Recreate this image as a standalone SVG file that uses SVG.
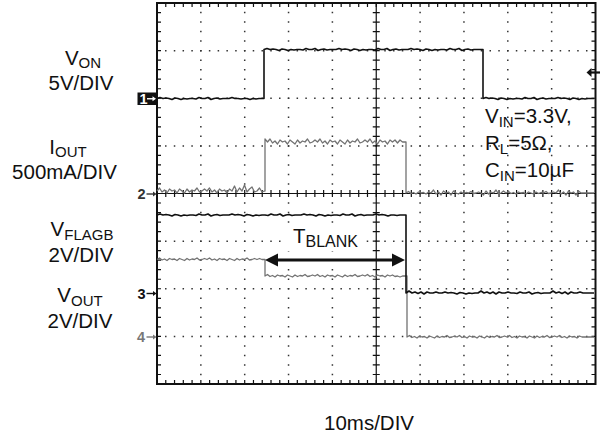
<svg xmlns="http://www.w3.org/2000/svg" width="600" height="436" viewBox="0 0 600 436">
<style>
.lbl{font-family:"Liberation Sans",Arial,sans-serif;font-size:20.5px;fill:#111}
.sub{font-size:15px}
.mk{font-family:"Liberation Sans",Arial,sans-serif;font-size:14.5px;font-weight:bold}
.dh{fill:none;stroke:#333;stroke-width:1.5;stroke-dasharray:1.5 7.27}
.dv{fill:none;stroke:#333;stroke-width:1.5;stroke-dasharray:1.5 8.025}
.th{fill:none;stroke:#111;stroke-width:4;stroke-dasharray:1.2 7.57}
.tv{fill:none;stroke:#111;stroke-width:4;stroke-dasharray:1.2 8.325}
.blk{fill:none;stroke:#111;stroke-width:1.6;stroke-linejoin:round}
.gry{fill:none;stroke:#727272;stroke-width:1.3;stroke-linejoin:round}
</style>
<rect width="600" height="436" fill="#fff"/>
<g id="grid">
<path class="dh" d="M156.25,50.625H596M156.25,98.25H596M156.25,145.875H596M156.25,241.125H596M156.25,288.75H596M156.25,336.375H596"/>
<path class="dv" d="M200.85,2.25V385M244.7,2.25V385M288.55,2.25V385M332.4,2.25V385M420.1,2.25V385M463.95,2.25V385M507.8,2.25V385M551.65,2.25V385"/>
<path class="th" d="M156.4,5H596M156.4,382H596"/>
<path class="tv" d="M159,2.4V385M593.5,2.4V385"/>
<path class="th" style="stroke-width:7" d="M156.4,193.5H596"/>
<path class="tv" style="stroke-width:7" d="M376.25,2.4V385"/>
<path fill="none" stroke="#111" stroke-width="1.2" d="M157,193.5H595.5M376.25,3V384"/>
<rect x="157" y="3" width="438.5" height="381" fill="none" stroke="#111" stroke-width="2"/>
</g>
<g id="traces">
<path id="von" class="blk" d="M157,98.5 l3,-1 3,1 3,-0.5 3,0.5 3,1 3,-1.5 3,0.5 3,1 3,-1 3,0.5 3,-0.5 3,0 3,0.5 3,-1.5 3,1 3,0 3,-1 3,2 3,-1 3,-0.5 3,1 3,-0.5 3,0 3,0 3,-1 3,1 3,0 3,0.5 3,-0.5 3,0 3,1 3,-1 3,0.5 3,-0.5 L264,98.5 V49.5 l3,-1 3,1 3,-0.5 3,0.5 3,1 3,-1.5 3,0.5 3,1 3,-1 3,0.5 3,-0.5 3,0 3,0.5 3,-1.5 3,1 3,0 3,-1 3,2 3,-1 3,-0.5 3,1 3,-0.5 3,0 3,0 3,-1 3,1 3,-0.5 3,0.5 3,1 3,-1.5 3,0.5 3,1 3,-1 3,0.5 3,-0.5 3,0 3,0.5 3,-1.5 3,1 3,0 3,-1 3,2 3,-1 3,-0.5 3,1 3,-0.5 3,0 3,0 3,-1 3,1 3,-0.5 3,0.5 3,1 3,-1.5 3,0.5 3,1 3,-1 3,0.5 3,-0.5 3,0 3,0.5 3,-1.5 3,1 3,0 3,-1 3,2 3,-1 3,-0.5 3,1 3,-0.5 3,0 3,0 L483,49.5 V98.5 l3,-1 3,1 3,-0.5 3,0.5 3,1 3,-1.5 3,0.5 3,1 3,-1 3,0.5 3,-0.5 3,0 3,0.5 3,-1.5 3,1 3,0 3,-1 3,2 3,-1 3,-0.5 3,1 3,-0.5 3,0 3,0 3,-1 3,1 3,-0.5 3,0.5 3,1 3,-1.5 3,0.5 3,1 3,-1 3,0.5 3,-0.5 3,0 L594,98.5"/>
<path id="iout" class="gry" d="M157,191 l2.5,-3 2.5,4 2.5,-2 2.5,3 2.5,-4 2.5,2 2.5,-1 2.5,3 2.5,-4 2.5,2 2.5,2 2.5,-4 2.5,3 2.5,-2 2.5,1 2.5,-3 2.5,4 2.5,-1 2.5,-2 2.5,2 2.5,-3 2.5,4 2.5,-2 2.5,3 2.5,-4 2.5,2 2.5,-1 2.5,3 2.5,-4 2.5,2 2.5,-5 2.5,6 2.5,-4 2.5,3 2.5,-6 2.5,7 2.5,-3 2.5,-2 2.5,5 2.5,-1 2.5,-3 2.5,4 2.5,-1 L265,191 V139 l2.5,3 2.5,-3 2.5,4 2.5,-2 2.5,3 2.5,-4 2.5,2 2.5,-1 2.5,3 2.5,-4 2.5,2 2.5,2 2.5,-4 2.5,3 2.5,-2 2.5,1 2.5,-3 2.5,4 2.5,-1 2.5,-2 2.5,2 2.5,-3 2.5,4 2.5,-2 2.5,3 2.5,-4 2.5,2 2.5,-1 2.5,3 2.5,-4 2.5,2 2.5,2 2.5,-4 2.5,3 2.5,-2 2.5,1 2.5,-3 2.5,4 2.5,-1 2.5,-2 2.5,2 2.5,-3 2.5,4 2.5,-2 2.5,3 2.5,-4 2.5,2 2.5,-1 2.5,3 2.5,-4 2.5,2 2.5,-2 2.5,3 2.5,-3 2.5,2 L406,142 V193 l2.5,-1.5 2.5,2 2.5,-1 2.5,1.5 2.5,-2 2.5,1 2.5,-0.5 2.5,1.5 2.5,-2 2.5,1 2.5,-3 2.5,4 2.5,-2 2.5,3 2.5,-4 2.5,2 2.5,-1 2.5,3 2.5,-4 2.5,2 2.5,1 2.5,-2 2.5,1.5 2.5,-1 2.5,0.5 2.5,-1.5 2.5,2 2.5,-0.5 2.5,-1 2.5,1 2.5,2 2.5,-4 2.5,3 2.5,-2 2.5,1 2.5,-3 2.5,4 2.5,-1 2.5,-2 2.5,2 2.5,-1.5 2.5,2 2.5,-1 2.5,1.5 2.5,-2 2.5,1 2.5,-0.5 2.5,1.5 2.5,-2 2.5,1 2.5,1 2.5,-2 2.5,1.5 2.5,-1 2.5,0.5 2.5,-1.5 2.5,2 2.5,-0.5 2.5,-1 2.5,1 2.5,-3 2.5,4 2.5,-2 2.5,3 2.5,-4 2.5,2 2.5,-1 2.5,3 2.5,-4 2.5,2 L594,193"/>
<path id="vout" class="gry" d="M157,259.5 l2.5,-1.5 2.5,2 2.5,-1 2.5,1.5 2.5,-2 2.5,1 2.5,-0.5 2.5,1.5 2.5,-2 2.5,1 2.5,1 2.5,-2 2.5,1.5 2.5,-1 2.5,0.5 2.5,-1.5 2.5,2 2.5,-0.5 2.5,-1 2.5,1 2.5,-1.5 2.5,2 2.5,-1 2.5,1.5 2.5,-2 2.5,1 2.5,-0.5 2.5,1.5 2.5,-2 2.5,1 2.5,1 2.5,-2 2.5,1.5 2.5,-1 2.5,0.5 2.5,-1.5 2.5,2 2.5,-0.5 2.5,-1 2.5,1 2.5,-1 2.5,1 2.5,0 L265,259.5 V276 l2.5,-1.5 2.5,2 2.5,-1 2.5,1.5 2.5,-2 2.5,1 2.5,-0.5 2.5,1.5 2.5,-2 2.5,1 2.5,1 2.5,-2 2.5,1.5 2.5,-1 2.5,0.5 2.5,-1.5 2.5,2 2.5,-0.5 2.5,-1 2.5,1 2.5,-1.5 2.5,2 2.5,-1 2.5,1.5 2.5,-2 2.5,1 2.5,-0.5 2.5,1.5 2.5,-2 2.5,1 2.5,1 2.5,-2 2.5,1.5 2.5,-1 2.5,0.5 2.5,-1.5 2.5,2 2.5,-0.5 2.5,-1 2.5,1 2.5,-1.5 2.5,2 2.5,-1 2.5,1.5 2.5,-2 2.5,1 2.5,-0.5 2.5,1.5 2.5,-2 2.5,1 2.5,-1 2.5,1.5 2.5,-0.5 2.5,1 2.5,-1 2.5,0 L407,276 V337 l2.5,-1.5 2.5,2 2.5,-1 2.5,1.5 2.5,-2 2.5,1 2.5,-0.5 2.5,1.5 2.5,-2 2.5,1 2.5,1 2.5,-2 2.5,1.5 2.5,-1 2.5,0.5 2.5,-1.5 2.5,2 2.5,-0.5 2.5,-1 2.5,1 2.5,-1.5 2.5,2 2.5,-1 2.5,1.5 2.5,-2 2.5,1 2.5,-0.5 2.5,1.5 2.5,-2 2.5,1 2.5,1 2.5,-2 2.5,1.5 2.5,-1 2.5,0.5 2.5,-1.5 2.5,2 2.5,-0.5 2.5,-1 2.5,1 2.5,-1.5 2.5,2 2.5,-1 2.5,1.5 2.5,-2 2.5,1 2.5,-0.5 2.5,1.5 2.5,-2 2.5,1 2.5,1 2.5,-2 2.5,1.5 2.5,-1 2.5,0.5 2.5,-1.5 2.5,2 2.5,-0.5 2.5,-1 2.5,1 2.5,-1.5 2.5,2 2.5,-1 2.5,1.5 2.5,-2 2.5,1 2.5,-0.5 2.5,1.5 2.5,-2 2.5,1 L594,337"/>
<path id="vflagb" class="blk" d="M157,215 l3,-1 3,1 3,-0.5 3,0.5 3,1 3,-1.5 3,0.5 3,1 3,-1 3,0.5 3,-0.5 3,0 3,0.5 3,-1.5 3,1 3,0 3,-1 3,2 3,-1 3,-0.5 3,1 3,-0.5 3,0 3,0 3,-1 3,1 3,-0.5 3,0.5 3,1 3,-1.5 3,0.5 3,1 3,-1 3,0.5 3,-0.5 3,0 3,0.5 3,-1.5 3,1 3,0 3,-1 3,2 3,-1 3,-0.5 3,1 3,-0.5 3,0 3,0 3,-1 3,1 3,-0.5 3,0.5 3,1 3,-1.5 3,0.5 3,1 3,-1 3,0.5 3,-0.5 3,0 3,0.5 3,-1.5 3,1 3,0 3,-1 3,2 3,-1 3,-0.5 3,1 3,-0.5 3,0 3,0 3,-1 3,1 3,-0.5 3,0.5 3,1 3,-1 3,0 3,0.5 3,-0.5 3,0 3,0 L406,215 V293 l3,-2 3,2 3,-1 3,1.5 3,-1.5 3,2 3,-2 3,1 3,0 3,-1 3,1 3,0 3,-1 3,1 3,-0.5 3,0.5 3,1 3,-1.5 3,0.5 3,1 3,-1 3,0.5 3,-0.5 3,0 3,-2 3,2 3,-1 3,1.5 3,-1.5 3,2 3,-2 3,1 3,0 3,-1 3,1 3,0 3,0.5 3,-1.5 3,1 3,0 3,-1 3,2 3,-1 3,-0.5 3,1 3,-0.5 3,0 3,0 3,-2 3,2 3,-1 3,1.5 3,-1.5 3,2 3,-2 3,1 3,0 3,-1 3,1 3,0 L594,293"/>
</g>
<g id="markers">
<g id="ch1">
<rect x="137.5" y="92.5" width="19" height="12.5" fill="#111"/>
<text class="mk" x="139.5" y="104" fill="#fff">1</text>
<path d="M147,98.75H153" stroke="#fff" stroke-width="1.4"/>
<path d="M156,98.75l-3.5,-2.5v5z" fill="#fff"/>
</g>
<g id="ch2" fill="#333">
<text class="mk" x="137.5" y="199">2</text>
<path d="M146.5,194H153" stroke="#333" stroke-width="1.4"/>
<path d="M156.5,194l-3.5,-2.5v5z"/>
</g>
<g id="ch3" fill="#111">
<text class="mk" x="137.5" y="299">3</text>
<path d="M146.5,293.5H153" stroke="#111" stroke-width="1.4"/>
<path d="M156.5,293.5l-3.5,-2.5v5z"/>
</g>
<g id="ch4" fill="#777">
<text class="mk" x="137" y="342">4</text>
<path d="M146.5,337H153" stroke="#777" stroke-width="1.4"/>
<path d="M156.5,337l-3.5,-2.5v5z"/>
</g>
<g id="trig">
<path d="M590,72.5H600" stroke="#111" stroke-width="2.2"/>
<path d="M586.5,72.5l5,-4.5v9z" fill="#111"/>
</g>
</g>
<g id="tblank">
<rect x="286" y="224" width="80" height="27" fill="#fff"/>
<path d="M276,260H394" stroke="#111" stroke-width="3"/>
<path d="M265,260l13,-6.5v13z M405,260l-13,-6.5v13z" fill="#111"/>
<text class="lbl" x="293" y="243">T<tspan style="font-size:16px" dy="4">BLANK</tspan></text>
</g>
<g id="labels">
<text class="lbl" x="83" y="65" text-anchor="middle">V<tspan class="sub" dy="2.5">ON</tspan></text>
<text class="lbl" x="81" y="89.5" text-anchor="middle">5V/DIV</text>
<text class="lbl" x="68" y="154" text-anchor="middle">I<tspan class="sub" dy="2.5">OUT</tspan></text>
<text class="lbl" x="64.5" y="179" text-anchor="middle">500mA/DIV</text>
<text class="lbl" x="82" y="236" text-anchor="middle">V<tspan class="sub" dy="4">FLAGB</tspan></text>
<text class="lbl" x="81" y="262" text-anchor="middle">2V/DIV</text>
<text class="lbl" x="80" y="302" text-anchor="middle">V<tspan class="sub" dy="4">OUT</tspan></text>
<text class="lbl" x="80" y="328" text-anchor="middle">2V/DIV</text>
<text class="lbl" x="485" y="123">V<tspan class="sub" dy="4">IN</tspan><tspan dy="-4">=3.3V,</tspan></text>
<text class="lbl" x="485" y="150">R<tspan class="sub" dy="4">L</tspan><tspan dy="-4">=5Ω,</tspan></text>
<text class="lbl" x="485" y="177">C<tspan class="sub" dy="4">IN</tspan><tspan dy="-4">=10µF</tspan></text>
<text class="lbl" x="369" y="430" text-anchor="middle">10ms/DIV</text>
</g>
</svg>
